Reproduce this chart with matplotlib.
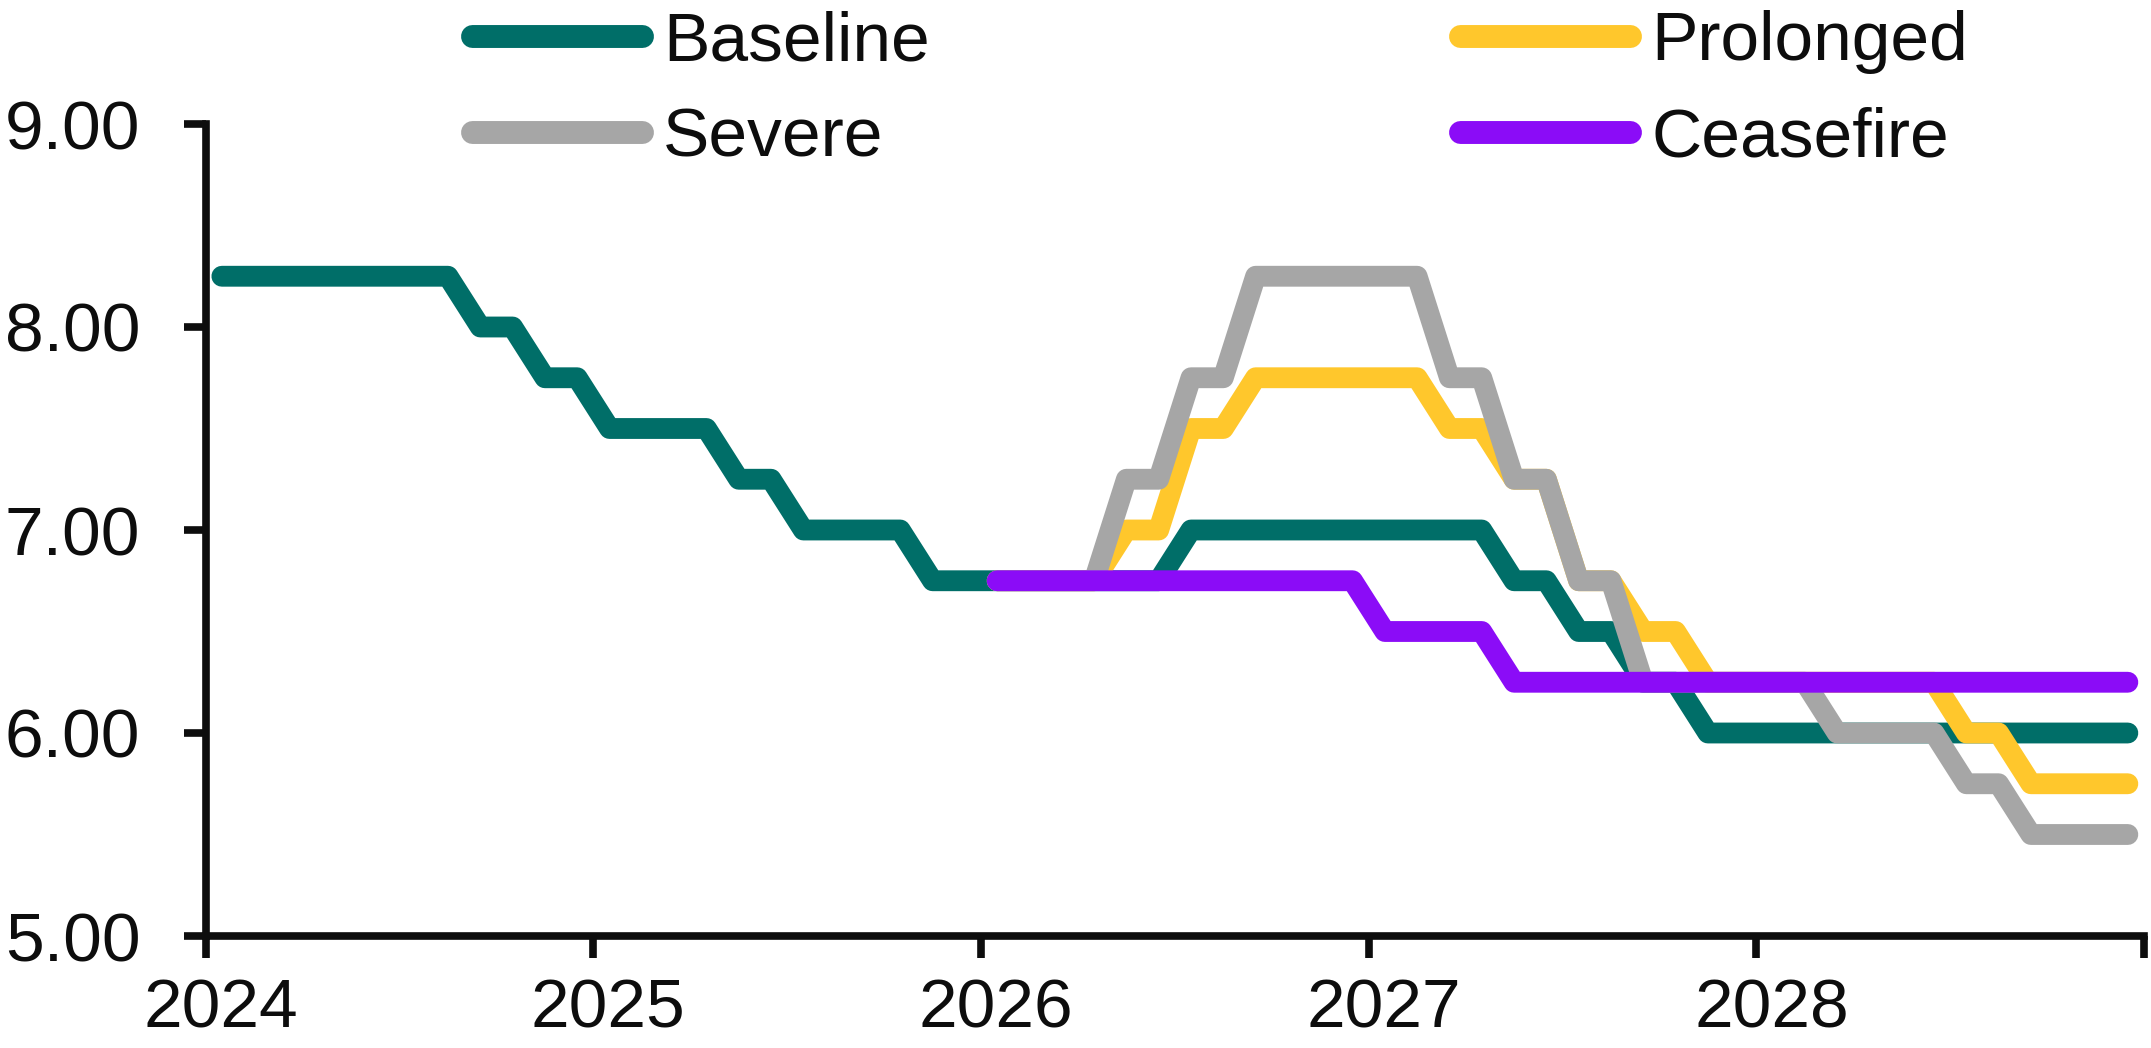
import numpy as np
import matplotlib
matplotlib.use("Agg")
import matplotlib.pyplot as plt
import matplotlib.transforms as mtransforms

plt.rcParams['font.family'] = ['Liberation Sans', 'DejaVu Sans']

# Monthly policy-rate paths, Jan 2024 .. Dec 2028 (60 months)
nan = np.nan
baseline = [8.25, 8.25, 8.25, 8.25, 8.25, 8.25, 8.25, 8.25,
            8.00, 8.00, 7.75, 7.75,
            7.50, 7.50, 7.50, 7.50, 7.25, 7.25, 7.00, 7.00, 7.00, 7.00, 6.75, 6.75,
            6.75, 6.75, 6.75, 6.75, 6.75, 6.75, 7.00, 7.00, 7.00, 7.00, 7.00, 7.00,
            7.00, 7.00, 7.00, 7.00, 6.75, 6.75, 6.50, 6.50, 6.25, 6.25, 6.00, 6.00,
            6.00, 6.00, 6.00, 6.00, 6.00, 6.00, 6.00, 6.00, 6.00, 6.00, 6.00, 6.00]
prolonged = [nan] * 24 + [
            6.75, 6.75, 6.75, 6.75, 7.00, 7.00, 7.50, 7.50, 7.75, 7.75, 7.75, 7.75,
            7.75, 7.75, 7.50, 7.50, 7.25, 7.25, 6.75, 6.75, 6.50, 6.50, 6.25, 6.25,
            6.25, 6.25, 6.25, 6.25, 6.25, 6.25, 6.00, 6.00, 5.75, 5.75, 5.75, 5.75]
severe = [nan] * 24 + [
            6.75, 6.75, 6.75, 6.75, 7.25, 7.25, 7.75, 7.75, 8.25, 8.25, 8.25, 8.25,
            8.25, 8.25, 7.75, 7.75, 7.25, 7.25, 6.75, 6.75, 6.25, 6.25, 6.25, 6.25,
            6.25, 6.25, 6.00, 6.00, 6.00, 6.00, 5.75, 5.75, 5.50, 5.50, 5.50, 5.50]
ceasefire = [nan] * 24 + [
            6.75, 6.75, 6.75, 6.75, 6.75, 6.75, 6.75, 6.75, 6.75, 6.75, 6.75, 6.75,
            6.50, 6.50, 6.50, 6.50, 6.25, 6.25, 6.25, 6.25, 6.25, 6.25, 6.25, 6.25,
            6.25, 6.25, 6.25, 6.25, 6.25, 6.25, 6.25, 6.25, 6.25, 6.25, 6.25, 6.25]

series_names = ["Baseline", "Prolonged", "Severe", "Ceasefire"]
series_colors = ["#006E68", "#FFC72C", "#A6A6A6", "#8B0CF7"]
year_ticks = [2024, 2025, 2026, 2027, 2028, 2029]
year_labels = ["2024", "2025", "2026", "2027", "2028", ""]
y_ticks = [5.0, 6.0, 7.0, 8.0, 9.0]

x = 2024 + (np.arange(60) + 0.5) / 12.0

W, H = 2151, 1048
fig = plt.figure(figsize=(W / 100, H / 100), dpi=100)
ax = fig.add_axes([205.7 / W, (H - 936) / H, (2144 - 205.7) / W, (936 - 124) / H])

lines = []
for vals, name, col in zip([baseline, prolonged, severe, ceasefire], series_names, series_colors):
    ln, = ax.plot(x, vals, color=col, lw=15, solid_capstyle='round',
                  solid_joinstyle='round', label=name)
    lines.append(ln)

ax.set_xlim(2024, 2029)
ax.set_ylim(5, 9)
ax.set_xticks(year_ticks)
ax.set_xticklabels(year_labels)
ax.set_yticks(y_ticks)
ax.set_yticklabels([f"{v:.2f}" for v in y_ticks])

for s in ['top', 'right']:
    ax.spines[s].set_visible(False)
for s in ['left', 'bottom']:
    ax.spines[s].set_linewidth(5.5)
    ax.spines[s].set_color('#0D0D0D')

FS = 50
ax.tick_params(axis='both', direction='out', length=16, width=5.5, color='#0D0D0D',
               labelsize=FS, labelcolor='#0D0D0D')
ax.tick_params(axis='y', pad=31)
ax.tick_params(axis='x', pad=14)

offset = mtransforms.ScaledTranslation(15 / 100, 0, fig.dpi_scale_trans)
for lab in ax.get_xticklabels():
    lab.set_transform(lab.get_transform() + offset)

leg = fig.legend(handles=[lines[0], lines[2], lines[1], lines[3]], ncol=2,
                 loc='upper left', bbox_to_anchor=(472 / W, 0.99),
                 frameon=False, fontsize=FS, handlelength=2.45, handletextpad=0.3,
                 columnspacing=7.64, labelspacing=0.46, borderpad=0, borderaxespad=0)
for t in leg.get_texts():
    t.set_color('#0D0D0D')
for hl in leg.get_lines():
    hl.set_linewidth(16.5)
    hl.set_solid_capstyle('round')

fig.savefig("out.png", dpi=100, facecolor='white')
